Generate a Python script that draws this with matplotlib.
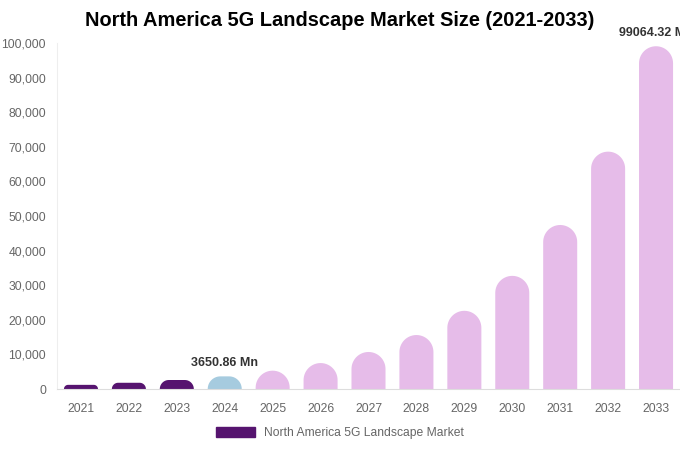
import numpy as np
import matplotlib
matplotlib.use("Agg")
import matplotlib.pyplot as plt
from matplotlib.path import Path
from matplotlib.patches import PathPatch, Patch

plt.rcParams['font.family'] = ['Liberation Sans', 'DejaVu Sans']

# data
years = ["2021", "2022", "2023", "2024", "2025", "2026", "2027",
         "2028", "2029", "2030", "2031", "2032", "2033"]
market_size = [1200, 1800, 2600, 3650.86, 5300, 7500, 10700,
               15600, 22600, 32700, 47400, 68600, 99064.32]
labelled = {3: "3650.86 Mn", 12: "99064.32 Mn"}
yticks = [0, 10000, 20000, 30000, 40000, 50000, 60000, 70000, 80000, 90000, 100000]

DARK = "#56146f"
BLUE = "#a6cbdf"
LAV = "#e6bce9"
colors = [DARK] * 3 + [BLUE] + [LAV] * 9

W, H = 680, 450
fig = plt.figure(figsize=(W / 100, H / 100), dpi=100)
ax = fig.add_axes([57 / W, (H - 389) / H, (680 - 57) / W, 346 / H])
ax.set_xlim(-0.5, len(years) - 0.5)
ax.set_ylim(0, 100000)

x = np.arange(len(years))
bars = ax.bar(x, market_size, width=0.71, color=colors)

# round the tops (pill shape) - radius worked out in pixels, then back to data units
px_x = len(years) / (680 - 57)      # data units per pixel in x
px_y = 100000 / 346                 # data units per pixel in y
for rect, c in zip(bars, colors):
    x0, w, h = rect.get_x(), rect.get_width(), rect.get_height()
    rect.set_visible(False)
    r = min((w / px_x) / 2, h / px_y)
    rx, ry = r * px_x, r * px_y
    cx_l, cx_r = x0 + rx, x0 + w - rx
    cy = h - ry
    pts = [(x0, 0), (x0, cy)]
    tl = np.linspace(np.pi, np.pi / 2, 15)
    pts += [(cx_l + rx * np.cos(a), cy + ry * np.sin(a)) for a in tl]
    tr = np.linspace(np.pi / 2, 0, 15)
    pts += [(cx_r + rx * np.cos(a), cy + ry * np.sin(a)) for a in tr]
    pts += [(x0 + w, 0), (x0, 0)]
    ax.add_patch(PathPatch(Path(pts, closed=True), facecolor=c, edgecolor="none"))

for i, txt in labelled.items():
    ax.annotate(txt, (x[i], market_size[i]), xytext=(0, 5), textcoords="offset points",
                ha="center", va="bottom", fontsize=9, fontweight="bold", color="#333333",
                annotation_clip=False)

ax.set_xticks(x)
ax.set_xticklabels(years)
ax.set_yticks(yticks)
ax.set_yticklabels([f"{v:,}" for v in yticks])
ax.tick_params(axis="both", length=0, colors="#666666", labelsize=8.7)
ax.tick_params(axis="x", pad=10)
ax.tick_params(axis="y", pad=8)
for s in ["top", "right"]:
    ax.spines[s].set_visible(False)
ax.spines["left"].set_color("#eeeeee")
ax.spines["bottom"].set_color("#dddddd")

fig.text(340 / W, 1 - 21 / H, "North America 5G Landscape Market Size (2021-2033)",
         ha="center", va="center", fontsize=14.4, fontweight="bold", color="#000000")

fig.legend(handles=[Patch(color=DARK, label="North America 5G Landscape Market")],
           loc="center", bbox_to_anchor=(340 / W, 1 - 433 / H), frameon=False,
           fontsize=8.7, handlelength=3.2, handleheight=0.9, labelcolor="#666666")

fig.savefig("out.png", dpi=100)
